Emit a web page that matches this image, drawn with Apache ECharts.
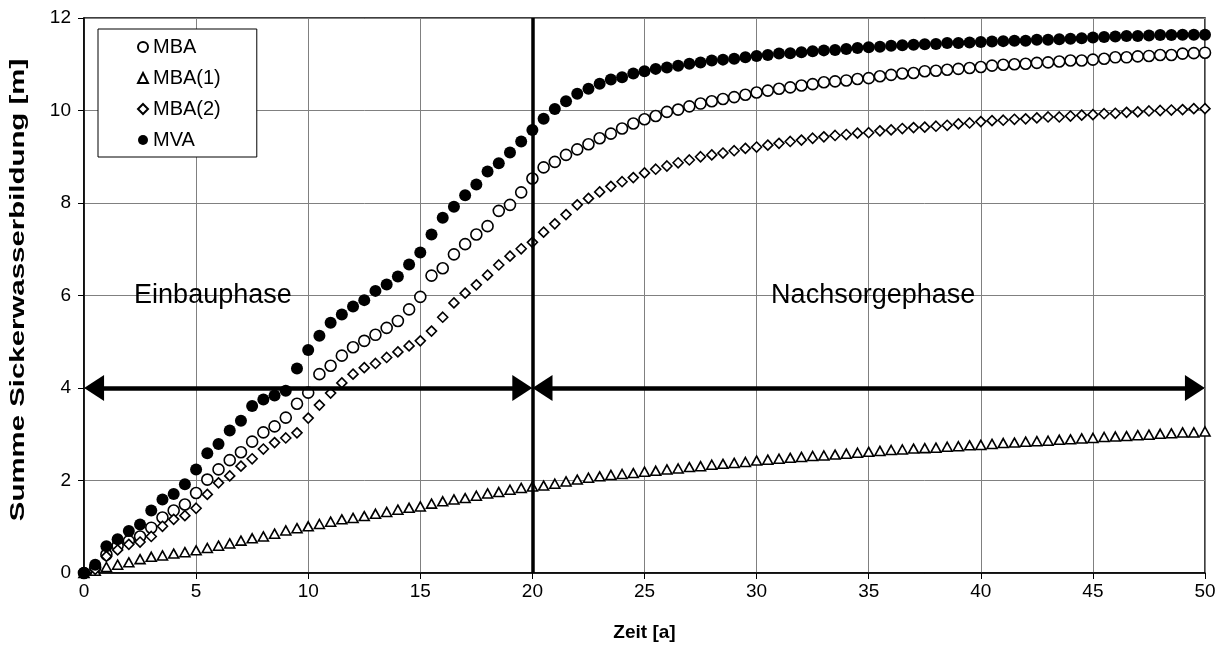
<!DOCTYPE html>
<html>
<head>
<meta charset="utf-8">
<script src="https://cdn.jsdelivr.net/npm/echarts@6/dist/echarts.min.js"></script>
<style>
  html, body { margin: 0; padding: 0; background: #fff; }
  #chart { width: 1228px; height: 662px; }
</style>
</head>
<body>
<div id="chart"></div>
<script>
// time grid: one value every half year, 0 .. 50
const years = Array.from({ length: 101 }, (_, i) => i * 0.5);

const mba = [
  0, 0.12, 0.40, 0.59, 0.69, 0.79, 0.98, 1.20, 1.35, 1.48,
  1.73, 2.02, 2.24, 2.44, 2.61, 2.84, 3.04, 3.17, 3.36, 3.66,
  3.90, 4.30, 4.48, 4.70, 4.88, 5.02, 5.15, 5.30, 5.45, 5.70,
  5.97, 6.43, 6.59, 6.89, 7.11, 7.32, 7.50, 7.83, 7.96, 8.23,
  8.53, 8.77, 8.89, 9.04, 9.16, 9.27, 9.40, 9.50, 9.61, 9.72,
  9.81, 9.88, 9.97, 10.02, 10.09, 10.15, 10.20, 10.25, 10.29, 10.34,
  10.39, 10.43, 10.47, 10.50, 10.54, 10.57, 10.61, 10.63, 10.65, 10.68,
  10.70, 10.74, 10.77, 10.80, 10.81, 10.85, 10.86, 10.88, 10.90, 10.92,
  10.94, 10.97, 10.99, 11.00, 11.01, 11.03, 11.04, 11.06, 11.08, 11.08,
  11.10, 11.12, 11.15, 11.15, 11.17, 11.18, 11.20, 11.20, 11.23, 11.24,
  11.25
];

const mba1 = [
  0, 0.05, 0.13, 0.18, 0.23, 0.30, 0.35, 0.38, 0.42, 0.45,
  0.49, 0.54, 0.59, 0.64, 0.70, 0.75, 0.79, 0.85, 0.92, 0.97,
  1.01, 1.06, 1.11, 1.16, 1.19, 1.23, 1.28, 1.32, 1.37, 1.41,
  1.44, 1.50, 1.55, 1.59, 1.62, 1.67, 1.72, 1.75, 1.80, 1.84,
  1.87, 1.89, 1.93, 1.98, 2.02, 2.06, 2.09, 2.12, 2.14, 2.16,
  2.19, 2.21, 2.24, 2.26, 2.29, 2.31, 2.34, 2.36, 2.38, 2.40,
  2.43, 2.45, 2.47, 2.49, 2.51, 2.53, 2.54, 2.56, 2.58, 2.60,
  2.62, 2.64, 2.66, 2.67, 2.69, 2.70, 2.71, 2.73, 2.74, 2.76,
  2.77, 2.79, 2.81, 2.82, 2.84, 2.85, 2.86, 2.88, 2.89, 2.91,
  2.92, 2.94, 2.95, 2.96, 2.98, 2.99, 3.01, 3.02, 3.04, 3.04,
  3.06
];

const mba2 = [
  0, 0.08, 0.36, 0.50, 0.62, 0.67, 0.79, 1.01, 1.16, 1.24,
  1.40, 1.70, 1.95, 2.10, 2.31, 2.47, 2.68, 2.82, 2.92, 3.03,
  3.35, 3.63, 3.89, 4.11, 4.30, 4.44, 4.53, 4.66, 4.78, 4.91,
  5.02, 5.23, 5.53, 5.84, 6.05, 6.23, 6.44, 6.66, 6.85, 7.01,
  7.15, 7.37, 7.55, 7.75, 7.96, 8.10, 8.24, 8.36, 8.46, 8.55,
  8.65, 8.73, 8.80, 8.87, 8.93, 9.00, 9.04, 9.08, 9.13, 9.18,
  9.21, 9.25, 9.29, 9.33, 9.36, 9.40, 9.43, 9.46, 9.48, 9.51,
  9.52, 9.56, 9.58, 9.61, 9.63, 9.64, 9.66, 9.68, 9.71, 9.73,
  9.76, 9.78, 9.79, 9.81, 9.82, 9.84, 9.86, 9.86, 9.88, 9.90,
  9.91, 9.93, 9.94, 9.96, 9.97, 9.99, 10.00, 10.01, 10.02, 10.04,
  10.04
];

const mva = [
  0, 0.18, 0.58, 0.73, 0.91, 1.05, 1.35, 1.59, 1.71, 1.92,
  2.24, 2.59, 2.79, 3.08, 3.29, 3.61, 3.75, 3.84, 3.94, 4.42,
  4.82, 5.13, 5.41, 5.59, 5.76, 5.90, 6.10, 6.24, 6.41, 6.67,
  6.93, 7.32, 7.68, 7.92, 8.17, 8.40, 8.68, 8.86, 9.09, 9.33,
  9.58, 9.82, 10.03, 10.20, 10.36, 10.47, 10.58, 10.67, 10.72, 10.80,
  10.85, 10.90, 10.93, 10.97, 11.01, 11.04, 11.08, 11.10, 11.12, 11.15,
  11.18, 11.20, 11.23, 11.24, 11.26, 11.28, 11.30, 11.31, 11.33, 11.35,
  11.37, 11.38, 11.40, 11.41, 11.42, 11.43, 11.44, 11.46, 11.46, 11.47,
  11.48, 11.49, 11.50, 11.51, 11.51, 11.53, 11.53, 11.54, 11.55, 11.56,
  11.58, 11.59, 11.60, 11.61, 11.61, 11.62, 11.63, 11.63, 11.64, 11.64,
  11.64
];

const phaseSplit = 20;     // Einbauphase | Nachsorgephase
const arrowLevel = 4;
const xTicks = [0, 50, 5];
const yTicks = [0, 12, 2];

const FONT = 'Liberation Sans, Arial, sans-serif';

const chart = echarts.init(document.getElementById('chart'), null, { renderer: 'canvas' });

const pairs = (vals) => years.map((x, i) => [x, vals[i]]);

const openStyle = { color: '#fff', borderColor: '#000', borderWidth: 1.6, opacity: 1 };
const head = { symbol: 'triangle', symbolSize: [26, 20] };

const option = {
  animation: false,
  backgroundColor: '#fff',
  grid: {
    left: 84, right: 23, top: 18, bottom: 89,
    show: true, borderColor: '#000', borderWidth: 1.5, backgroundColor: 'transparent'
  },
  legend: {
    data: ['MBA', 'MBA(1)', 'MBA(2)', 'MVA'],
    orient: 'vertical',
    left: 98, top: 29,
    padding: [8, 36, 7, 39],
    itemGap: 11,
    itemWidth: 10, itemHeight: 10,
    selectedMode: false,
    borderColor: '#000', borderWidth: 1, borderRadius: 0,
    backgroundColor: '#fff',
    textStyle: { fontFamily: FONT, fontSize: 20, color: '#000' }
  },
  xAxis: {
    type: 'value',
    min: xTicks[0], max: xTicks[1], interval: xTicks[2],
    name: 'Zeit [a]',
    nameLocation: 'middle',
    nameGap: 50,
    nameTextStyle: { fontFamily: FONT, fontSize: 19, fontWeight: 'bold', color: '#000' },
    axisLine: { lineStyle: { color: '#000', width: 1.5 } },
    axisTick: { show: true, inside: false, length: 6, lineStyle: { color: '#000' } },
    axisLabel: { fontFamily: FONT, fontSize: 19, color: '#000', margin: 9 },
    splitLine: { show: true, lineStyle: { color: '#808080', width: 1 } }
  },
  yAxis: {
    type: 'value',
    min: yTicks[0], max: yTicks[1], interval: yTicks[2],
    axisLine: { lineStyle: { color: '#000', width: 1.5 } },
    axisTick: { show: true, inside: false, length: 6, lineStyle: { color: '#000' } },
    axisLabel: { fontFamily: FONT, fontSize: 19, color: '#000', margin: 13 },
    splitLine: { show: true, lineStyle: { color: '#808080', width: 1 } }
  },
  series: [
    {
      name: 'phases', type: 'scatter', data: [], silent: true,
      markLine: {
        silent: true, animation: false,
        symbol: ['none', 'none'],
        label: { show: false },
        emphasis: { disabled: true },
        data: [
          {
            xAxis: phaseSplit,
            lineStyle: { color: '#000', width: 3.5, type: 'solid' }
          },
          [
            Object.assign({ coord: [0.45, arrowLevel] }, head),
            Object.assign({ coord: [phaseSplit - 0.45, arrowLevel] }, head)
          ],
          [
            Object.assign({ coord: [phaseSplit + 0.45, arrowLevel] }, head),
            Object.assign({ coord: [xTicks[1] - 0.45, arrowLevel] }, head)
          ]
        ],
        lineStyle: { color: '#000', width: 4.5, type: 'solid', opacity: 1 },
        itemStyle: { color: '#000', opacity: 1 }
      }
    },
    {
      name: 'MBA', type: 'scatter', data: pairs(mba),
      symbol: 'circle', symbolSize: 11, itemStyle: openStyle
    },
    {
      name: 'MBA(1)', type: 'scatter', data: pairs(mba1),
      symbol: 'triangle', symbolSize: [10, 9], itemStyle: openStyle
    },
    {
      name: 'MBA(2)', type: 'scatter', data: pairs(mba2),
      symbol: 'diamond', symbolSize: [10, 10], itemStyle: openStyle
    },
    {
      name: 'MVA', type: 'scatter', data: pairs(mva),
      symbol: 'circle', symbolSize: 12, itemStyle: { color: '#000', opacity: 1 }
    }
  ]
};

chart.setOption(option);

// phase captions and y-axis title, placed after layout
const einbau = chart.convertToPixel({ gridIndex: 0 }, [5.75, 6]);
const nachsorge = chart.convertToPixel({ gridIndex: 0 }, [35.2, 6]);
const caption = (text, p) => ({
  type: 'text', x: p[0], y: p[1], silent: true,
  style: {
    text, fontFamily: FONT, fontSize: 27, fill: '#000',
    textAlign: 'center', textVerticalAlign: 'middle'
  }
});
chart.setOption({
  graphic: [
    caption('Einbauphase', einbau),
    caption('Nachsorgephase', nachsorge),
    {
      // the title is drawn long and narrow in the original
      type: 'text', x: 18, y: 290, rotation: Math.PI / 2, scaleX: 1.4, silent: true,
      style: {
        text: 'Summe Sickerwasserbildung [m]',
        fontFamily: FONT, fontSize: 21, fontWeight: 'bold', fill: '#000',
        textAlign: 'center', textVerticalAlign: 'middle'
      }
    }
  ]
});
</script>
</body>
</html>
